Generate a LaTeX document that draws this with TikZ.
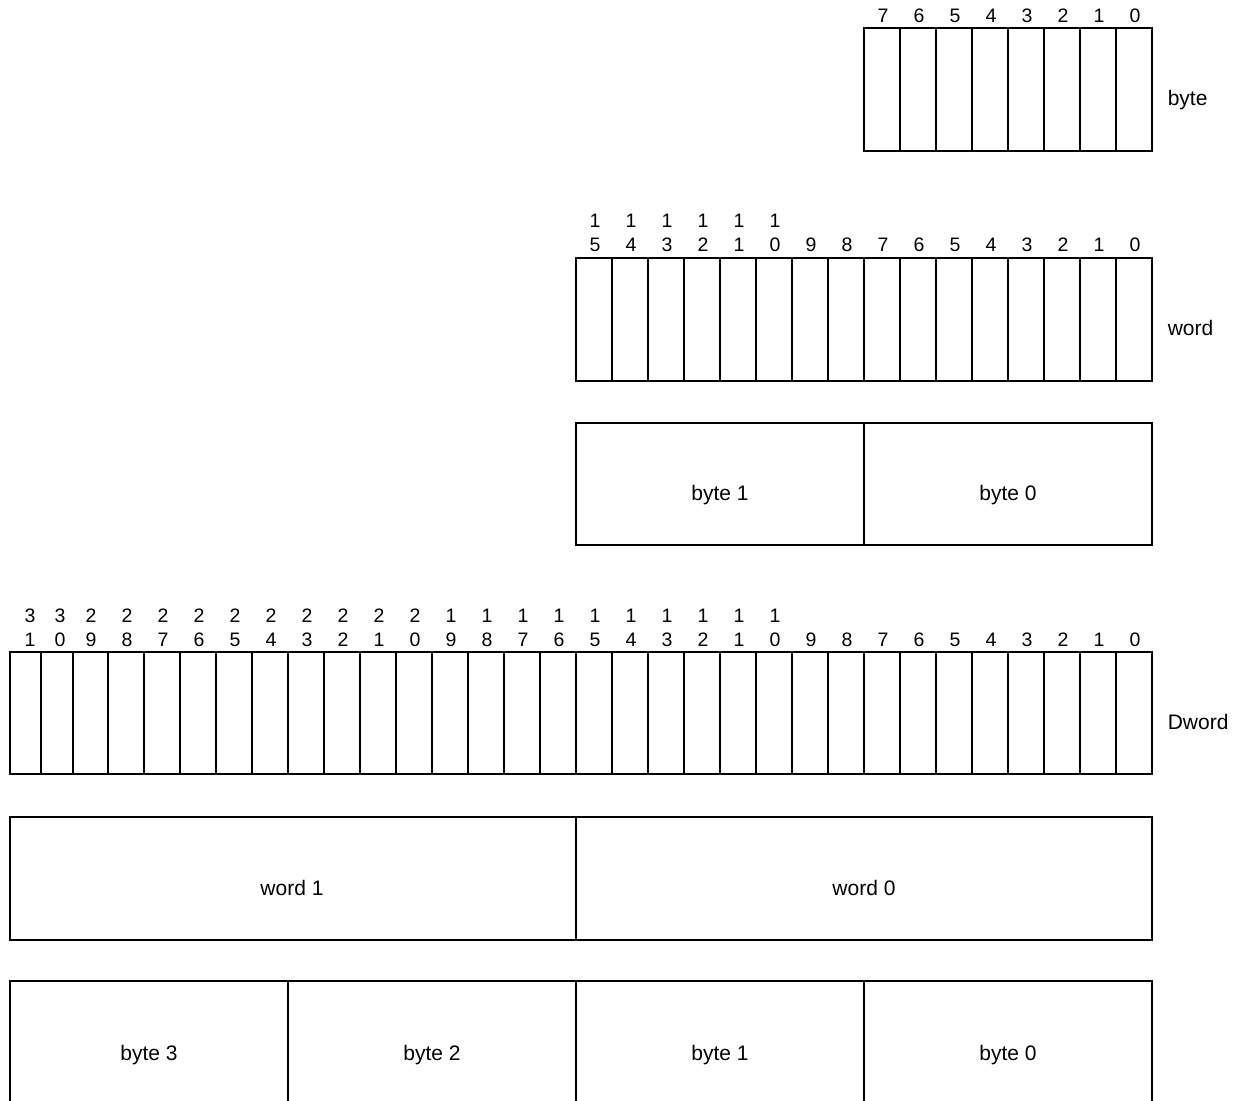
\documentclass[tikz,border=0pt]{standalone}
\usepackage{fontspec}
\setmainfont{Liberation Sans}
\begin{document}
\begin{tikzpicture}[x=1pt,y=-1pt,line width=1.6pt,
  bitnum/.style={font=\fontsize{19.5}{24}\selectfont, anchor=base, inner sep=0pt},
  lbl/.style={font=\fontsize{21}{26}\selectfont, anchor=base, inner sep=0pt},
  sidelbl/.style={lbl, anchor=base west}]
\useasboundingbox (0,0) rectangle (1235,1101);

% ---- byte ----
\draw (864,28) rectangle (1152,151);
\foreach \i in {1,...,7} \draw ({864+36*\i},28) -- ({864+36*\i},151);
\foreach \i in {0,...,7} \node[bitnum] (b\i) at ({1152-36*\i-17},22) {\i};
\node[sidelbl] (lbyte) at (1167,105) {byte};

% ---- word ----
\draw (576,258) rectangle (1152,381);
\foreach \i in {1,...,15} \draw ({576+36*\i},258) -- ({576+36*\i},381);
\foreach \i in {0,...,15}{
  \pgfmathtruncatemacro\tens{\i/10}
  \pgfmathtruncatemacro\units{mod(\i,10)}
  \node[bitnum] (wu\i) at ({1152-36*\i-17},251) {\units};
  \ifnum\i>9 \node[bitnum] (wt\i) at ({1152-36*\i-17},227) {\tens};\fi
}
\node[sidelbl] (lword) at (1167,335) {word};

% ---- word as bytes ----
\draw (576,423) rectangle (1152,545);
\draw (864,423) -- (864,545);
\node[lbl] (wb1) at (720,500) {byte 1};
\node[lbl] (wb0) at (1008,500) {byte 0};

% ---- Dword ----
\draw (10,652) rectangle (1152,774);
\draw (41,652) -- (41,774);
\draw (73,652) -- (73,774);
\foreach \j in {0,...,28} \draw ({108+36*\j},652) -- ({108+36*\j},774);
\foreach \i in {0,...,31}{
  \pgfmathtruncatemacro\tens{\i/10}
  \pgfmathtruncatemacro\units{mod(\i,10)}
  \ifnum\i=31 \def\xx{30}\else\ifnum\i=30 \def\xx{60}\else
    \pgfmathsetmacro\xx{1152-36*\i-17}\fi\fi
  \node[bitnum] (du\i) at (\xx,646) {\units};
  \ifnum\i>9 \node[bitnum] (dt\i) at (\xx,622) {\tens};\fi
}
\node[sidelbl] (ldword) at (1167,729) {Dword};

% ---- Dword as words ----
\draw (10,817) rectangle (1152,940);
\draw (576,817) -- (576,940);
\node[lbl] (dw1) at (292,895) {word 1};
\node[lbl] (dw0) at (864,895) {word 0};

% ---- Dword as bytes ----
\draw (10,1104) -- (10,981) -- (1152,981) -- (1152,1104);
\foreach \x in {288,576,864} \draw (\x,981) -- (\x,1104);
\node[lbl] (db3) at (149,1060) {byte 3};
\node[lbl] (db2) at (432,1060) {byte 2};
\node[lbl] (db1) at (720,1060) {byte 1};
\node[lbl] (db0) at (1008,1060) {byte 0};
\end{tikzpicture}
\end{document}
